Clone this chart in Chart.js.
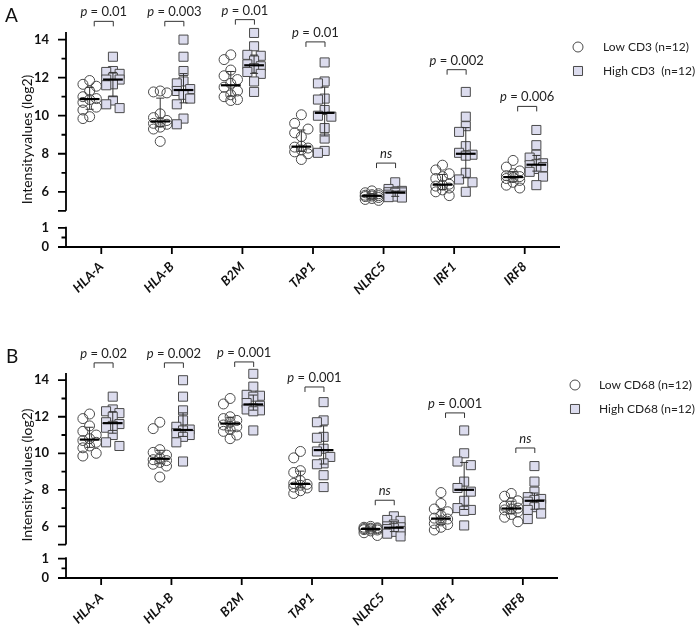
<!DOCTYPE html>
<html><head><meta charset="utf-8">
<script src="https://cdn.jsdelivr.net/npm/chart.js@4.4.1/dist/chart.umd.min.js"></script>
<style>
html,body{margin:0;padding:0;background:#fff;}
#wrap{position:relative;width:700px;height:631px;overflow:hidden;}
canvas{position:absolute;left:0;}
</style></head><body>
<div id="wrap">
<canvas id="cA" width="700" height="310" style="top:0"></canvas>
<canvas id="cB" width="700" height="321" style="top:310px"></canvas>
</div>
<script>
const categories = ['HLA-A','HLA-B','B2M','TAP1','NLRC5','IRF1','IRF8'];

const lowCD3 = [
  [11.85, 11.65, 11.55, 11.3, 11.0, 10.9, 10.85, 10.7, 10.45, 10.3, 9.95, 9.85],
  [11.3, 11.25, 11.2, 10.1, 9.9, 9.75, 9.65, 9.6, 9.55, 9.4, 9.3, 8.65],
  [13.2, 12.95, 12.4, 12.1, 11.9, 11.7, 11.5, 11.3, 11.1, 11.0, 10.85, 10.8],
  [10.05, 9.6, 9.3, 9.1, 8.9, 8.4, 8.35, 8.3, 8.2, 8.1, 8.0, 7.7],
  [6.05, 5.95, 5.9, 5.85, 5.82, 5.8, 5.78, 5.75, 5.7, 5.65, 5.6, 5.55],
  [7.4, 7.15, 6.95, 6.8, 6.7, 6.4, 6.35, 6.3, 6.2, 6.1, 6.0, 5.8],
  [7.65, 7.3, 7.1, 6.95, 6.85, 6.8, 6.75, 6.7, 6.6, 6.5, 6.35, 6.2]
];
const highCD3 = [
  [13.1, 12.35, 12.3, 12.2, 12.0, 11.9, 11.9, 11.65, 11.6, 10.8, 10.6, 10.4],
  [14.0, 13.1, 12.35, 11.8, 11.7, 11.4, 11.3, 11.1, 10.9, 10.6, 9.85, 9.55],
  [14.35, 13.65, 13.2, 13.15, 12.9, 12.7, 12.6, 12.5, 12.3, 12.2, 11.8, 11.25],
  [12.8, 11.8, 11.7, 10.9, 10.85, 10.3, 10.0, 9.95, 9.35, 8.8, 8.15, 8.05],
  [6.5, 6.15, 6.05, 6.0, 5.98, 5.97, 5.95, 5.85, 5.8, 5.75, 5.72, 5.7],
  [11.25, 9.95, 9.45, 9.15, 8.4, 8.05, 7.95, 7.9, 7.0, 6.65, 6.5, 6.0],
  [9.25, 8.45, 7.95, 7.8, 7.5, 7.45, 7.4, 7.3, 7.2, 7.05, 6.8, 6.35]
];
const lowCD68 = [
  [12.15, 11.9, 11.5, 11.2, 11.0, 10.8, 10.7, 10.6, 10.4, 10.3, 10.0, 9.85],
  [11.7, 11.35, 10.2, 10.05, 9.9, 9.75, 9.65, 9.6, 9.5, 9.4, 9.3, 8.7],
  [13.0, 12.7, 12.0, 11.9, 11.8, 11.7, 11.55, 11.45, 11.3, 11.2, 11.0, 10.8],
  [10.1, 9.75, 9.05, 8.95, 8.5, 8.35, 8.3, 8.25, 8.15, 8.1, 7.95, 7.8],
  [6.0, 5.95, 5.92, 5.9, 5.88, 5.87, 5.85, 5.82, 5.8, 5.75, 5.65, 5.5],
  [7.85, 7.25, 6.95, 6.8, 6.6, 6.45, 6.4, 6.3, 6.15, 6.1, 5.95, 5.8],
  [7.8, 7.65, 7.4, 7.3, 7.1, 7.0, 6.95, 6.9, 6.8, 6.65, 6.5, 6.25]
];
const highCD68 = [
  [13.1, 12.4, 12.3, 12.2, 12.0, 11.7, 11.6, 11.5, 11.4, 11.0, 10.6, 10.4],
  [14.0, 13.1, 12.35, 11.8, 11.45, 11.3, 11.25, 11.1, 11.0, 10.9, 10.6, 9.55],
  [14.35, 13.65, 13.2, 13.15, 13.1, 12.75, 12.6, 12.45, 12.4, 12.35, 12.3, 11.25],
  [12.8, 11.8, 11.7, 10.9, 10.85, 10.25, 10.1, 9.8, 9.45, 9.4, 8.8, 8.15],
  [6.55, 6.35, 6.3, 6.1, 6.0, 5.95, 5.9, 5.85, 5.75, 5.7, 5.6, 5.45],
  [11.25, 10.0, 9.55, 9.35, 8.45, 8.1, 7.9, 7.4, 7.0, 6.9, 6.85, 6.05],
  [9.3, 8.45, 7.9, 7.6, 7.5, 7.45, 7.35, 7.2, 7.05, 6.9, 6.7, 6.4]
];

const pLabelsA = ['p = 0.01','p = 0.003','p = 0.01','p = 0.01','ns','p = 0.002','p = 0.006'];
const pLabelsB = ['p = 0.02','p = 0.002','p = 0.001','p = 0.001','ns','p = 0.001','ns'];
const bracketA = [14.96, 14.96, 15.05, 13.88, 7.51, 12.42, 10.49];
const bracketB = [14.95, 14.95, 15.0, 13.63, 7.43, 12.21, 10.29];

const upperMajor = [6, 8, 10, 12, 14];
const upperMinor = [5, 7, 9, 11, 13];
const lowerMajor = [0, 1];
const lowerMinor = [0.5];

const FONT = 'Lato, "Liberation Sans", Arial, sans-serif';
const LOW_OFF = -0.165, HIGH_OFF = 0.165;
const STEP = 0.095, X_PX = 70, Y_PX = 19;

function swarm(vals){
  const order = vals.map((v,i)=>i).sort((a,b)=>vals[b]-vals[a]);
  const placed = []; const off = new Array(vals.length).fill(0);
  for (const i of order){
    let best = 0, bestD = -1;
    for (const c of [0,-1,1]){
      let minD = Infinity;
      for (const p of placed){
        const dx = (c-p.c)*STEP*X_PX, dy = (vals[i]-p.v)*Y_PX;
        minD = Math.min(minD, Math.hypot(dx,dy));
      }
      if (minD >= 9){ best = c; bestD = minD; break; }
      if (minD > bestD){ bestD = minD; best = c; }
    }
    placed.push({c:best, v:vals[i]}); off[i] = best*STEP;
  }
  return off;
}
function points(groups, base){
  const out = [];
  groups.forEach((vals, ci) => {
    const off = swarm(vals);
    vals.forEach((v, j) => out.push({x: ci + base + off[j], y: v}));
  });
  return out;
}
function quant(vals, p){
  const s = [...vals].sort((a,b)=>a-b); const n = s.length;
  let pos = (n+1)*p; if (pos < 1) pos = 1; if (pos > n) pos = n;
  const lo = Math.floor(pos), f = pos - lo;
  return lo >= n ? s[n-1] : s[lo-1] + f*(s[lo]-s[lo-1]);
}

function makePanel(canvasId, cfg){
  const panelPlugin = {
    id: 'panel',
    afterDatasetsDraw(chart){
      const ctx = chart.ctx, x = chart.scales.x, y = chart.scales.yUp;
      ctx.save();
      [[cfg.low, LOW_OFF],[cfg.high, HIGH_OFF]].forEach(([groups, base]) => {
        groups.forEach((vals, ci) => {
          const cx = x.getPixelForValue(ci + base);
          const med = y.getPixelForValue(quant(vals,0.5));
          const q1 = y.getPixelForValue(quant(vals,0.25));
          const q3 = y.getPixelForValue(quant(vals,0.75));
          ctx.strokeStyle = '#333'; ctx.lineWidth = 1;
          ctx.beginPath();
          ctx.moveTo(cx, q1); ctx.lineTo(cx, q3);
          ctx.moveTo(cx-4, q1); ctx.lineTo(cx+4, q1);
          ctx.moveTo(cx-4, q3); ctx.lineTo(cx+4, q3);
          ctx.stroke();
          const hw = x.getPixelForValue(ci + base + 0.14) - cx;
          ctx.strokeStyle = '#000'; ctx.lineWidth = 2.2;
          ctx.beginPath(); ctx.moveTo(cx-hw, med); ctx.lineTo(cx+hw, med); ctx.stroke();
        });
      });
      categories.forEach((c, ci) => {
        const x0 = x.getPixelForValue(ci - 0.1), x1 = x.getPixelForValue(ci + 0.17);
        const by = y.getPixelForValue(cfg.brackets[ci]);
        ctx.strokeStyle = '#333'; ctx.lineWidth = 1;
        ctx.beginPath(); ctx.moveTo(x0, by+5); ctx.lineTo(x0, by); ctx.lineTo(x1, by); ctx.lineTo(x1, by+5); ctx.stroke();
        const mid = (x0+x1)/2, ty = by - 5;
        const lab = cfg.pLabels[ci];
        ctx.fillStyle = '#222'; ctx.textBaseline = 'alphabetic';
        if (lab === 'ns'){
          ctx.font = 'italic 13px ' + FONT; ctx.textAlign = 'center';
          ctx.fillText(lab, mid, ty);
        } else {
          const p1 = 'p', p2 = lab.slice(1);
          ctx.font = 'italic 13px ' + FONT; const w1 = ctx.measureText(p1).width;
          ctx.font = '13px ' + FONT; const w2 = ctx.measureText(p2).width;
          const sx = mid - (w1+w2)/2;
          ctx.textAlign = 'left';
          ctx.font = 'italic 13px ' + FONT; ctx.fillText(p1, sx, ty);
          ctx.font = '13px ' + FONT; ctx.fillText(p2, sx + w1, ty);
        }
      });
      ctx.restore();
    },
    afterDraw(chart){
      const ctx = chart.ctx, x = chart.scales.x, yU = chart.scales.yUp, yL = chart.scales.yLow;
      const ca = chart.chartArea, ax = ca.left;
      ctx.save();
      ctx.strokeStyle = '#000'; ctx.lineWidth = 1.8; ctx.lineCap = 'butt';
      ctx.beginPath();
      ctx.moveTo(ax, yU.getPixelForValue(5)); ctx.lineTo(ax, yU.getPixelForValue(14.4));
      ctx.moveTo(ax, yL.getPixelForValue(0)); ctx.lineTo(ax, yL.getPixelForValue(1.07));
      ctx.moveTo(ax - 1, ca.bottom); ctx.lineTo(ca.right, ca.bottom);
      upperMajor.forEach(v => { const p = yU.getPixelForValue(v); ctx.moveTo(ax-8, p); ctx.lineTo(ax, p); });
      upperMinor.forEach(v => { const p = yU.getPixelForValue(v); ctx.moveTo(ax-(v===5?8:4.5), p); ctx.lineTo(ax, p); });
      lowerMajor.forEach(v => { const p = yL.getPixelForValue(v); ctx.moveTo(ax-8, p); ctx.lineTo(ax, p); });
      lowerMinor.forEach(v => { const p = yL.getPixelForValue(v); ctx.moveTo(ax-4.5, p); ctx.lineTo(ax, p); });
      categories.forEach((c, ci) => { const p = x.getPixelForValue(ci); ctx.moveTo(p, ca.bottom); ctx.lineTo(p, ca.bottom + 7); });
      ctx.stroke();
      ctx.fillStyle = '#111'; ctx.font = '14px ' + FONT; ctx.textAlign = 'center'; ctx.textBaseline = 'middle';
      ctx.save(); ctx.translate(cfg.titleX, (ca.top + ca.bottom)/2); ctx.rotate(-Math.PI/2);
      ctx.fillText(cfg.title, 0, 0); ctx.restore();
      ctx.font = '19px ' + FONT; ctx.textAlign = 'left'; ctx.textBaseline = 'middle'; ctx.fillStyle = '#111';
      ctx.fillText(cfg.letter, cfg.letterPos[0], cfg.letterPos[1]);
      const ds = chart.data.datasets;
      ds.forEach((d, i) => {
        const lx = cfg.legend[0], ly = cfg.legend[1] + i*cfg.legend[3];
        ctx.fillStyle = d.pointStyle === 'circle' ? '#fff' : d.backgroundColor;
        ctx.strokeStyle = d.borderColor; ctx.lineWidth = 1;
        ctx.beginPath();
        if (d.pointStyle === 'circle') ctx.arc(lx, ly, d.pointRadius, 0, Math.PI*2);
        else { const s = d.pointRadius*Math.SQRT1_2; ctx.rect(lx-s, ly-s, 2*s, 2*s); }
        ctx.fill(); ctx.stroke();
        ctx.fillStyle = '#222'; ctx.font = '12px ' + FONT; ctx.textAlign = 'left'; ctx.textBaseline = 'middle';
        ctx.fillText(d.label, cfg.legend[2], ly);
      });
      ctx.restore();
    }
  };
  const tickFont = {family: FONT, size: 13, weight: 'bold'};
  return new Chart(document.getElementById(canvasId), {
    type: 'scatter',
    data: {
      datasets: [
        {label: cfg.lowLabel, data: points(cfg.low, LOW_OFF), pointStyle: 'circle', pointRadius: 5,
         backgroundColor: 'rgba(255,255,255,0)', borderColor: '#4a4a4a', borderWidth: 1, xAxisID: 'x', yAxisID: 'yUp', clip: false},
        {label: cfg.highLabel, data: points(cfg.high, HIGH_OFF), pointStyle: 'rect', pointRadius: 6.4,
         backgroundColor: '#dcdcee', borderColor: '#4a4a4a', borderWidth: 1, xAxisID: 'x', yAxisID: 'yUp', clip: false}
      ]
    },
    options: {
      responsive: false, animation: false, devicePixelRatio: 1, events: [],
      layout: {padding: cfg.padding},
      plugins: {legend: {display: false}, tooltip: {enabled: false}},
      scales: {
        x: {type: 'linear', min: -0.5, max: 6.5,
            afterBuildTicks: s => { s.ticks = categories.map((c,i)=>({value:i})); },
            afterFit: s => { s.height = cfg.xHeight; },
            ticks: {autoSkip: false, minRotation: 45, maxRotation: 45, padding: 4,
                    callback: v => categories[v], color: '#111', font: {family: FONT, size: 13, weight: 'bold', style: 'italic'}},
            grid: {display: false}, border: {display: false}},
        yLow: {type: 'linear', position: 'left', stack: 'y', stackWeight: cfg.lowWeight, min: 0, max: cfg.lowMax,
            afterBuildTicks: s => { s.ticks = lowerMajor.map(v=>({value:v})); },
            afterFit: s => { s.width = 66; },
            ticks: {autoSkip: false, padding: 9, color: '#111', font: tickFont},
            grid: {display: false}, border: {display: false}},
        yUp: {type: 'linear', position: 'left', stack: 'y', stackWeight: cfg.upWeight, min: cfg.upMin, max: cfg.upMax,
            afterBuildTicks: s => { s.ticks = upperMajor.map(v=>({value:v})); },
            afterFit: s => { s.width = 66; },
            ticks: {autoSkip: false, padding: 9, color: '#111', font: tickFont},
            grid: {display: false}, border: {display: false}}
      }
    },
    plugins: [panelPlugin]
  });
}

makePanel('cA', {
  low: lowCD3, high: highCD3, lowLabel: 'Low CD3 (n=12)', highLabel: 'High CD3  (n=12)',
  pLabels: pLabelsA, brackets: bracketA, title: 'Intensityvalues (log2)', titleX: 27.5,
  letter: 'A', letterPos: [5, 16], legend: [578, 47, 603, 24],
  padding: {left: 0, right: 140, top: 32, bottom: 0}, xHeight: 63,
  lowWeight: 28.5, lowMax: 1.5, upWeight: 186.2, upMin: 4.6, upMax: 14.4
});
makePanel('cB', {
  low: lowCD68, high: highCD68, lowLabel: 'Low CD68 (n=12)', highLabel: 'High CD68 (n=12)',
  pLabels: pLabelsB, brackets: bracketB, title: 'Intensity values (log2)', titleX: 27.5,
  letter: 'B', letterPos: [6, 47], legend: [575, 75, 599, 24],
  padding: {left: 0, right: 142, top: 62, bottom: 0}, xHeight: 53,
  lowWeight: 27.7, lowMax: 1.43, upWeight: 178.2, upMin: 4.69, upMax: 14.45
});
</script></body></html>
